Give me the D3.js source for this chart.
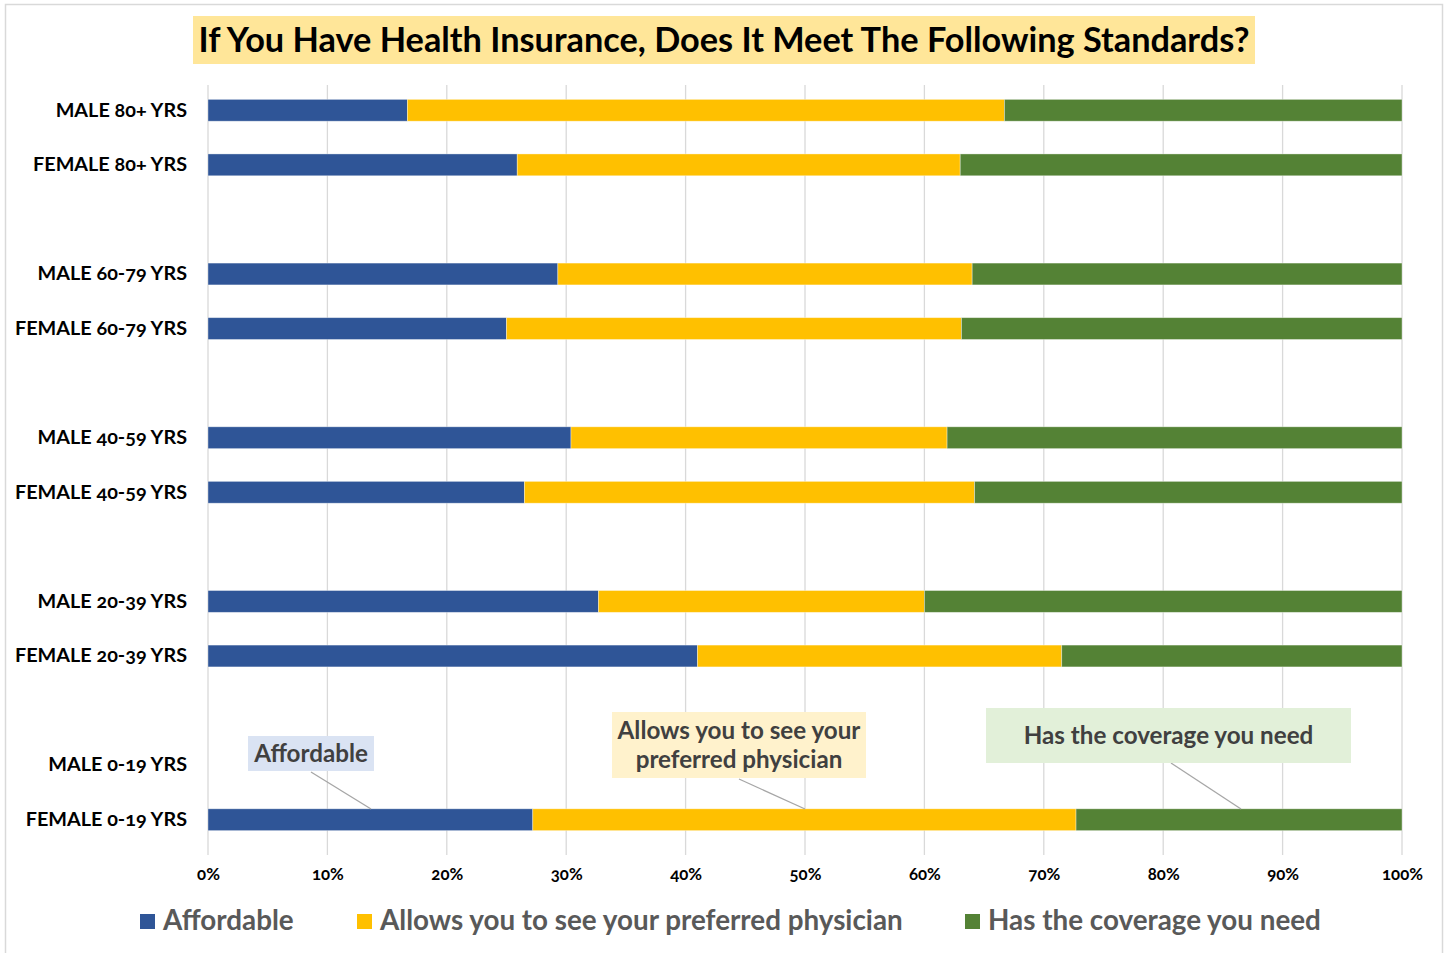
<!DOCTYPE html>
<html><head><meta charset="utf-8">
<script src="https://cdn.jsdelivr.net/npm/d3@7"></script>
<style>
body{margin:0;background:#fff;}
svg text{font-family:Lato,"Open Sans",sans-serif;font-feature-settings:"onum";}
</style></head>
<body><svg id="c" width="1445" height="953"></svg>
<script>
const categories = ["MALE 80+ YRS","FEMALE 80+ YRS","","MALE 60-79 YRS","FEMALE 60-79 YRS","","MALE 40-59 YRS","FEMALE 40-59 YRS","","MALE 20-39 YRS","FEMALE 20-39 YRS","","MALE 0-19 YRS","FEMALE 0-19 YRS"];
const affordable = [16.7,25.9,null,29.3,25.0,null,30.4,26.5,null,32.7,41.0,null,0,27.2];
const physician  = [50.0,37.1,null,34.7,38.1,null,31.5,37.7,null,27.3,30.5,null,0,45.5];
const coverage   = [33.3,37.0,null,36.0,36.9,null,38.1,35.8,null,40.0,28.5,null,0,27.3];
const seriesNames = ["Affordable","Allows you to see your preferred physician","Has the coverage you need"];
const colors = ["#2f5597","#ffc000","#548235"];
const xTicks = [0,10,20,30,40,50,60,70,80,90,100];
const title = "If You Have Health Insurance, Does It Meet The Following Standards?";

const svg = d3.select("#c");
const m={l:208,r:1402,t:83,b:847};

svg.append("rect").attr("x",5.5).attr("y",4.5).attr("width",1437).attr("height",960)
  .attr("fill","#fff").attr("stroke","#d9d9d9").attr("stroke-width",1.5);

const x=d3.scaleLinear().domain([0,100]).range([m.l,m.r]);
const y=d3.scaleBand().domain(d3.range(categories.length)).range([m.t,m.b]).paddingInner(0.6).paddingOuter(0.3);

// gridlines
svg.append("g").selectAll("line").data(xTicks).join("line")
  .attr("x1",d=>x(d)).attr("x2",d=>x(d)).attr("y1",85).attr("y2",855)
  .attr("stroke","#d9d9d9").attr("stroke-width",1.3);

// stacked data
const rows = categories.map((c,i)=>({i,c,a:affordable[i],p:physician[i],v:coverage[i]})).filter(d=>d.a!==null);
const stack=d3.stack().keys(["a","p","v"])(rows);
svg.append("g").selectAll("g").data(stack).join("g").attr("fill",(d,i)=>colors[i])
  .selectAll("rect").data(d=>d.filter(s=>s[1]-s[0]>0)).join("rect")
  .attr("x",d=>x(d[0])).attr("width",d=>x(d[1])-x(d[0]))
  .attr("y",d=>y(d.data.i)).attr("height",y.bandwidth())
  .attr("stroke","#ffffff").attr("stroke-opacity",0.45).attr("stroke-width",0.8);

// y labels
const yAxis=d3.axisLeft(y).tickSize(0).tickPadding(21).tickFormat(i=>categories[i]);
const ya=svg.append("g").attr("transform",`translate(${m.l},0)`).call(yAxis);
ya.select(".domain").remove();
ya.selectAll("text").attr("font-size",19.8).attr("font-weight",700).attr("fill","#000")
  .style("font-family","Lato,sans-serif");

// x axis
const xAxis=d3.axisBottom(x).tickValues(xTicks).tickSize(0).tickPadding(13).tickFormat(d=>d+"%");
const xa=svg.append("g").attr("transform",`translate(0,855)`).call(xAxis);
xa.select(".domain").remove();
xa.selectAll("text").attr("font-size",16.8).attr("font-weight",700).attr("fill","#000")
  .style("font-family","Lato,sans-serif");

// title
svg.append("rect").attr("x",193).attr("y",16).attr("width",1062).attr("height",48).attr("fill","#ffe699");
svg.append("text").attr("x",724).attr("y",52).attr("text-anchor","middle")
  .attr("font-size",34.3).attr("font-weight",700).attr("fill","#000").text(title);

// callouts
const callouts=[
 {lines:["Affordable"],box:[248,736,126,35],fill:"#dae3f3",lx1:311,ly1:772,lx2:371,ly2:809},
 {lines:["Allows you to see your","preferred physician"],box:[612,712,254,66],fill:"#fff2cc",lx1:739,ly1:779,lx2:805,ly2:809},
 {lines:["Has the coverage you need"],box:[986,708,365,55],fill:"#e2f0d9",lx1:1171,ly1:763,lx2:1241,ly2:809}
];
callouts.forEach(c=>{
  svg.append("line").attr("x1",c.lx1).attr("y1",c.ly1).attr("x2",c.lx2).attr("y2",c.ly2)
    .attr("stroke","#a6a6a6").attr("stroke-width",1.3);
  svg.append("rect").attr("x",c.box[0]).attr("y",c.box[1]).attr("width",c.box[2]).attr("height",c.box[3]).attr("fill",c.fill);
  const cx=c.box[0]+c.box[2]/2, cy=c.box[1]+c.box[3]/2;
  const n=c.lines.length;
  c.lines.forEach((t,k)=>{
    svg.append("text").attr("x",cx).attr("y",cy+(k-(n-1)/2)*29+8).attr("text-anchor","middle")
      .attr("font-size",24.2).attr("font-weight",700).attr("fill","#404040").text(t);
  });
});

// legend
const legX=[140,357,965];
const lg=svg.append("g").selectAll("g").data(seriesNames).join("g")
  .attr("transform",(d,i)=>`translate(${legX[i]},914)`);
lg.append("rect").attr("width",15).attr("height",15).attr("fill",(d,i)=>colors[i]);
lg.append("text").attr("x",23).attr("y",16).attr("font-size",27.8).attr("font-weight",700).attr("fill","#595959").text(d=>d);
</script></body></html>
